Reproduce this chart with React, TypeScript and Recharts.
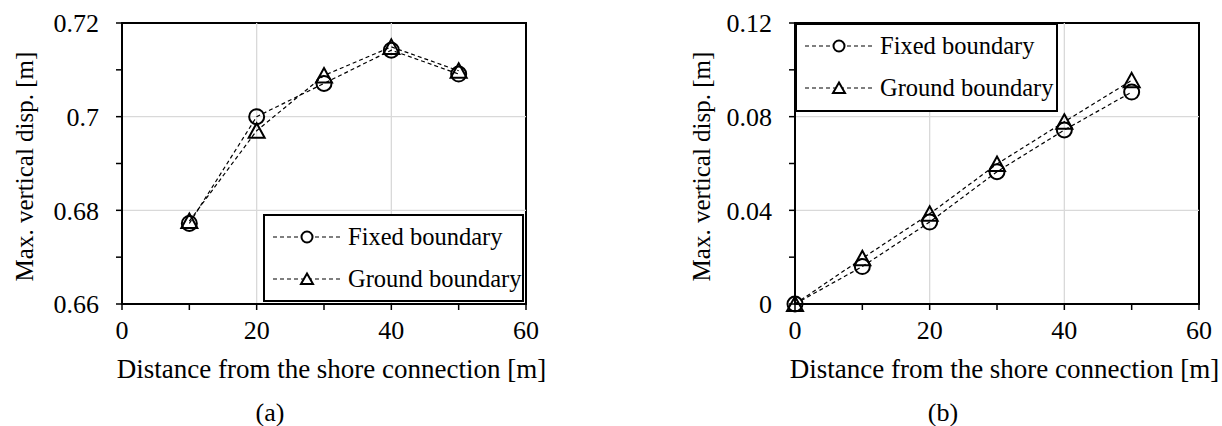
import React from "react";
import { LineChart, Line, XAxis, YAxis, ReferenceLine, ReferenceArea, Legend, Label } from "recharts";

// (a) distance 10-50 m
const distanceA = [10, 20, 30, 40, 50];
const fixedA = [0.6772, 0.7, 0.7071, 0.7142, 0.7091];
const groundA = [0.6777, 0.697, 0.7088, 0.7149, 0.7098];

// (b) distance 0-50 m
const distanceB = [0, 10, 20, 30, 40, 50];
const fixedB = [0, 0.016, 0.035, 0.0565, 0.0743, 0.0905];
const groundB = [0, 0.0195, 0.0385, 0.0598, 0.0778, 0.0955];

const xTicks = [0, 10, 20, 30, 40, 50, 60];
const xGrid = [20, 40];
const yTicksA = [0.66, 0.67, 0.68, 0.69, 0.7, 0.71, 0.72];
const yGridA = [0.68, 0.7];
const yTicksB = [0, 0.02, 0.04, 0.06, 0.08, 0.1, 0.12];
const yGridB = [0.04, 0.08];

const seriesNames = ["Fixed boundary", "Ground boundary"];
const xTitle = "Distance from the shore connection [m]";
const yTitle = "Max. vertical disp. [m]";

const FONT = "'Liberation Serif', 'Times New Roman', serif";

const dataA = distanceA.map((x, i) => ({ x, fixed: fixedA[i], ground: groundA[i] }));
const dataB = distanceB.map((x, i) => ({ x, fixed: fixedB[i], ground: groundB[i] }));

const CircleDot = (props: any) => {
  const { cx, cy } = props;
  if (cx == null || cy == null) return null;
  return <circle cx={cx} cy={cy} r={7.5} fill="none" stroke="#000" strokeWidth={2} />;
};

const TriangleDot = (props: any) => {
  const { cx, cy } = props;
  if (cx == null || cy == null) return null;
  return (
    <path
      d={`M${cx},${cy - 7.5} L${cx + 8},${cy + 7} L${cx - 8},${cy + 7} Z`}
      fill="none"
      stroke="#000"
      strokeWidth={2}
    />
  );
};

const LegendBox = (props: any) => {
  const { payload = [] } = props;
  return (
    <div
      style={{
        boxSizing: "border-box",
        width: "100%",
        height: "100%",
        border: "2px solid #000",
        background: "#fff",
        fontFamily: FONT,
        fontSize: 24.5,
        color: "#000",
      }}
    >
      {payload.map((entry: any, i: number) => (
        <div key={i} style={{ display: "flex", alignItems: "center", height: 42, lineHeight: 1 }}>
          <svg width={83} height={20} style={{ flex: "none" }}>
            <line x1={8} x2={77} y1={10} y2={10} stroke="#000" strokeWidth={1.2} strokeDasharray="4 3" />
            {entry.dataKey === "fixed" ? (
              <circle cx={42} cy={10} r={5.5} fill="#fff" stroke="#000" strokeWidth={2} />
            ) : (
              <path d="M42,4.5 L48,15 L36,15 Z" fill="#fff" stroke="#000" strokeWidth={2} />
            )}
          </svg>
          <span style={{ whiteSpace: "nowrap" }}>{entry.value}</span>
        </div>
      ))}
    </div>
  );
};

const xTitleContent = (caption: string) => (props: any) => {
  const vb = props.viewBox;
  return (
    <g>
      <text x={vb.x + vb.width / 2 + 7.5} y={vb.y + 74} textAnchor="middle" fontSize={27} fill="#000">
        {xTitle}
      </text>
      <text x={vb.x + 148} y={vb.y + 117} textAnchor="middle" fontSize={26} fill="#000">
        {caption}
      </text>
    </g>
  );
};

const yTitleContent = (gap: number) => (props: any) => {
  const vb = props.viewBox;
  const x = vb.x + vb.width - gap;
  const cy = vb.y + vb.height / 2 + 3;
  return (
    <text x={x} y={cy} transform={`rotate(-90, ${x}, ${cy})`} textAnchor="middle" fontSize={25} fill="#000">
      {yTitle}
    </text>
  );
};

const tickStyle = { fill: "#000", fontSize: 26 };

interface PanelProps {
  data: any[];
  yTicks: number[];
  yGrid: number[];
  yDomain: [number, number];
  yMajor: (v: number) => boolean;
  margin: { top: number; right: number; bottom: number; left: number };
  width: number;
  caption: string;
  titleGap: number;
  legendPos: { left: number; top: number; width: number; height: number };
}

const Panel: React.FC<PanelProps> = ({ data, yTicks, yGrid, yDomain, yMajor, margin, width, caption, titleGap, legendPos }) => (
  <LineChart width={width} height={426} data={data} margin={margin}>
    {xGrid.map((v) => (
      <ReferenceLine key={"gx" + v} x={v} stroke="#d9d9d9" strokeWidth={1.3} />
    ))}
    {yGrid.map((v) => (
      <ReferenceLine key={"gy" + v} y={v} stroke="#d9d9d9" strokeWidth={1.3} />
    ))}
    <XAxis
      dataKey="x"
      type="number"
      domain={[0, 60]}
      ticks={xTicks}
      interval={0}
      tickFormatter={(v: number) => (v % 20 === 0 ? String(v) : "")}
      tick={tickStyle}
      tickSize={6}
      tickMargin={11}
      tickLine={{ stroke: "#000", strokeWidth: 1.5 }}
      axisLine={{ stroke: "#000", strokeWidth: 2 }}
      height={70}
    >
      <Label content={xTitleContent(caption)} />
    </XAxis>
    <YAxis
      type="number"
      domain={yDomain}
      ticks={yTicks}
      interval={0}
      tickFormatter={(v: number) => (yMajor(v) ? String(v) : "")}
      tick={tickStyle}
      tickSize={6}
      tickMargin={17}
      tickLine={{ stroke: "#000", strokeWidth: 1.5 }}
      axisLine={{ stroke: "#000", strokeWidth: 2 }}
      width={100}
    >
      <Label content={yTitleContent(titleGap)} />
    </YAxis>
    <ReferenceArea x1={0} x2={60} y1={yDomain[0]} y2={yDomain[1]} fill="none" stroke="#000" strokeWidth={2} />
    <Line
      name={seriesNames[0]}
      dataKey="fixed"
      type="linear"
      stroke="#000"
      strokeWidth={1.2}
      strokeDasharray="4 3"
      dot={<CircleDot />}
      activeDot={false}
      isAnimationActive={false}
    />
    <Line
      name={seriesNames[1]}
      dataKey="ground"
      type="linear"
      stroke="#000"
      strokeWidth={1.2}
      strokeDasharray="4 3"
      dot={<TriangleDot />}
      activeDot={false}
      isAnimationActive={false}
    />
    <Legend
      layout="vertical"
      align="center"
      verticalAlign="middle"
      width={legendPos.width}
      height={legendPos.height}
      wrapperStyle={{ left: legendPos.left, top: legendPos.top, width: legendPos.width, height: legendPos.height }}
      content={<LegendBox />}
    />
  </LineChart>
);

export default function App() {
  return (
    <div style={{ position: "absolute", left: 0, top: 0, width: 1222, height: 426, background: "#fff", fontFamily: FONT }}>
      <style>{`.recharts-wrapper text, .recharts-wrapper tspan, .recharts-legend-wrapper span { font-family: 'Liberation Serif', 'Times New Roman', serif !important; }
.recharts-cartesian-axis-tick-value, .recharts-cartesian-axis-tick-value tspan { font-size: 26px !important; }`}</style>
      <div style={{ position: "absolute", left: 0, top: 0 }}>
        <Panel
          data={dataA}
          yTicks={yTicksA}
          yGrid={yGridA}
          yDomain={[0.66, 0.72]}
          yMajor={(v) => Math.round(v * 100) % 2 === 0}
          margin={{ top: 23, right: 74, bottom: 52, left: 22 }}
          width={600}
          caption="(a)"
          titleGap={89}
          legendPos={{ left: 263, top: 214, width: 261, height: 88 }}
        />
      </div>
      <div style={{ position: "absolute", left: 640, top: 0 }}>
        <Panel
          data={dataB}
          yTicks={yTicksB}
          yGrid={yGridB}
          yDomain={[0, 0.12]}
          yMajor={(v) => Math.round(v * 100) % 4 === 0}
          margin={{ top: 23, right: 23, bottom: 52, left: 55 }}
          width={582}
          caption="(b)"
          titleGap={85}
          legendPos={{ left: 155, top: 23, width: 263, height: 89 }}
        />
      </div>
    </div>
  );
}
